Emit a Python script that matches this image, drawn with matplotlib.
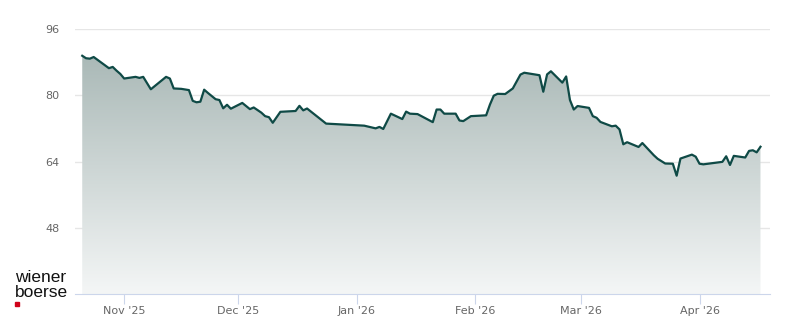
import matplotlib
matplotlib.use('Agg')
import matplotlib.pyplot as plt
import matplotlib.dates as mdates
from matplotlib.colors import LinearSegmentedColormap
from matplotlib.patches import Rectangle, PathPatch
import numpy as np
import pandas as pd

# price history (vertices of the line)
dates = [
    '2025-10-21', '2025-10-22', '2025-10-23', '2025-10-24', '2025-10-28', '2025-10-29',
    '2025-10-30', '2025-10-31', '2025-11-01', '2025-11-04', '2025-11-05', '2025-11-06',
    '2025-11-08', '2025-11-12', '2025-11-13', '2025-11-14', '2025-11-16', '2025-11-18',
    '2025-11-19', '2025-11-20', '2025-11-21', '2025-11-22', '2025-11-23', '2025-11-25',
    '2025-11-26', '2025-11-27', '2025-11-28', '2025-11-29', '2025-12-02', '2025-12-04',
    '2025-12-05', '2025-12-07', '2025-12-08', '2025-12-09', '2025-12-10', '2025-12-12',
    '2025-12-16', '2025-12-17', '2025-12-18', '2025-12-19', '2025-12-24', '2026-01-03',
    '2026-01-06', '2026-01-07', '2026-01-08', '2026-01-10', '2026-01-13', '2026-01-14',
    '2026-01-15', '2026-01-17', '2026-01-21', '2026-01-22', '2026-01-23', '2026-01-24',
    '2026-01-27', '2026-01-28', '2026-01-29', '2026-01-31', '2026-02-04', '2026-02-05',
    '2026-02-06', '2026-02-07', '2026-02-09', '2026-02-11', '2026-02-13', '2026-02-14',
    '2026-02-18', '2026-02-19', '2026-02-20', '2026-02-21', '2026-02-24', '2026-02-25',
    '2026-02-26', '2026-02-27', '2026-02-28', '2026-03-03', '2026-03-04', '2026-03-05',
    '2026-03-06', '2026-03-09', '2026-03-10', '2026-03-11', '2026-03-12', '2026-03-13',
    '2026-03-16', '2026-03-17', '2026-03-20', '2026-03-21', '2026-03-23', '2026-03-25',
    '2026-03-26', '2026-03-27', '2026-03-30', '2026-03-31', '2026-04-01', '2026-04-02',
    '2026-04-07', '2026-04-08', '2026-04-09', '2026-04-10', '2026-04-13', '2026-04-14',
    '2026-04-15', '2026-04-16', '2026-04-17',
]
prices = [
    89.6, 89.0, 88.9, 89.3, 86.6, 86.9,
    86.0, 85.2, 84.1, 84.5, 84.25, 84.5,
    81.5, 84.5, 84.1, 81.7, 81.6, 81.3,
    78.7, 78.35, 78.5, 81.4, 80.6, 79.1,
    78.9, 76.9, 77.75, 76.8, 78.2, 76.7,
    77.1, 75.85, 75.0, 74.75, 73.4, 76.05,
    76.25, 77.5, 76.4, 76.85, 73.2, 72.7,
    72.05, 72.4, 71.9, 75.6, 74.3, 76.1,
    75.6, 75.5, 73.55, 76.6, 76.6, 75.6,
    75.6, 73.95, 73.8, 75.0, 75.2, 77.8,
    79.95, 80.4, 80.35, 81.7, 85.05, 85.5,
    84.9, 80.9, 85.1, 85.85, 83.1, 84.6,
    78.9, 76.6, 77.45, 77.0, 75.0, 74.6,
    73.6, 72.55, 72.7, 71.8, 68.2, 68.7,
    67.55, 68.5, 65.55, 64.7, 63.55, 63.5,
    60.6, 64.75, 65.7, 65.2, 63.5, 63.35,
    63.95, 65.3, 63.2, 65.4, 65.0, 66.6,
    66.75, 66.25, 67.6,
]
y_ticks = [48, 64, 80, 96]
month_ticks = ['2025-11-01', '2025-12-01', '2026-01-01', '2026-02-01', '2026-03-01', '2026-04-01']

x = mdates.date2num(pd.to_datetime(dates))
nov1 = mdates.date2num(pd.Timestamp('2025-11-01'))

fig = plt.figure(figsize=(8, 3.24), dpi=100)
ax = fig.add_axes([75 / 800, 30 / 324, 695 / 800, 264.7 / 324])

# gradient area under the line
cmap = LinearSegmentedColormap.from_list('fade', ['#f4f6f6', '#aab9b7'])
grad = np.linspace(0, 1, 256).reshape(-1, 1)
im = ax.imshow(grad, extent=[x[0], x[-1], 32, max(prices)], origin='lower',
               aspect='auto', cmap=cmap, zorder=1, interpolation='bilinear')
poly = ax.fill_between(x, prices, 32, facecolor='none', edgecolor='none')
clip = PathPatch(poly.get_paths()[0], transform=ax.transData, facecolor='none', edgecolor='none')
ax.add_patch(clip)
im.set_clip_path(clip)

ax.plot(x, prices, color='#0f4a46', lw=1.6, zorder=3, solid_joinstyle='round')

ax.set_ylim(32, 96)
ax.set_xlim(nov1 - 12.9, nov1 + 169.5)

ax.set_yticks(y_ticks)
ax.yaxis.grid(True, color='#e6e6e6', lw=1)
ax.set_axisbelow(True)
ax.tick_params(axis='y', length=0, pad=11, labelsize=8, labelcolor='#666666')

ax.set_xticks(mdates.date2num(pd.to_datetime(month_ticks)))
ax.xaxis.set_major_formatter(mdates.DateFormatter("%b '%y"))
ax.tick_params(axis='x', direction='out', length=7.5, width=0.8, color='#ccd6eb',
               pad=1, labelsize=8, labelcolor='#666666')

for side in ['top', 'right', 'left']:
    ax.spines[side].set_visible(False)
ax.spines['bottom'].set_color('#ccd6eb')
ax.spines['bottom'].set_linewidth(0.8)

# logo
fig.text(15 / 800, 1 - 282 / 324, 'wiener', fontsize=12.5, family='Liberation Sans',
         color='#111111', va='baseline')
fig.text(15 / 800, 1 - 297 / 324, 'boerse', fontsize=12.5, family='Liberation Sans',
         color='#111111', va='baseline')
fig.patches.append(Rectangle((15 / 800, 1 - 305.7 / 324), 4.3 / 800, 3.7 / 324,
                             transform=fig.transFigure, color='#d0021b'))

fig.savefig('out.png', dpi=100)
